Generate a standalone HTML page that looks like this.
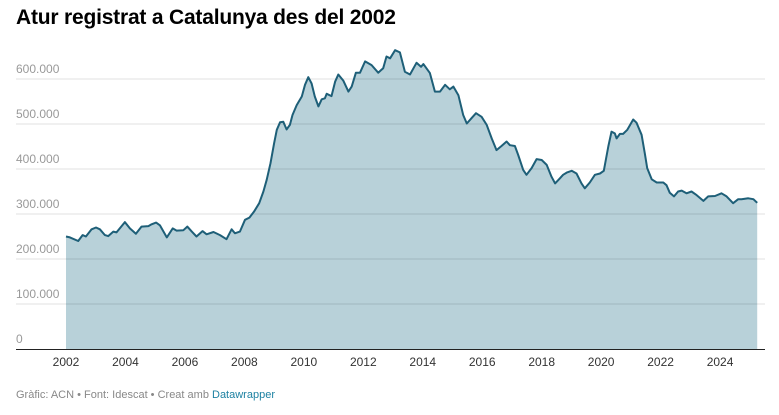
<!DOCTYPE html>
<html><head><meta charset="utf-8"><style>
body{margin:0;background:#fff;font-family:"Liberation Sans",sans-serif;}
#wrap{position:relative;width:779px;height:415px;overflow:hidden;}
h1{position:absolute;left:16px;top:6px;margin:0;font-size:21px;font-weight:bold;color:#000;letter-spacing:-0.2px;}
#foot{position:absolute;left:16px;top:389px;font-size:11px;color:#888;}
#foot a{color:#1d81a2;text-decoration:none;}
</style></head><body>
<div id="wrap">
<h1>Atur registrat a Catalunya des del 2002</h1>
<svg id="chart" width="779" height="415" style="position:absolute;left:0;top:0"></svg>
<div id="foot">Gràfic: ACN • Font: Idescat • Creat amb <a>Datawrapper</a></div>
</div>
<script>
const years=[2002.00,2002.13,2002.41,2002.56,2002.67,2002.86,2003.01,2003.14,2003.31,2003.42,2003.59,2003.70,2003.98,2004.15,2004.35,2004.54,2004.77,2004.88,2005.03,2005.16,2005.39,2005.59,2005.72,2005.95,2006.08,2006.23,2006.39,2006.59,2006.73,2006.96,2007.18,2007.40,2007.57,2007.68,2007.85,2008.02,2008.17,2008.32,2008.50,2008.64,2008.75,2008.88,2009.00,2009.09,2009.20,2009.31,2009.42,2009.53,2009.62,2009.76,2009.93,2010.04,2010.15,2010.26,2010.37,2010.49,2010.60,2010.71,2010.77,2010.93,2011.05,2011.16,2011.33,2011.50,2011.61,2011.75,2011.89,2012.06,2012.28,2012.50,2012.67,2012.78,2012.90,2013.07,2013.23,2013.40,2013.57,2013.79,2013.94,2014.02,2014.24,2014.41,2014.58,2014.75,2014.91,2015.03,2015.20,2015.36,2015.48,2015.64,2015.79,2015.98,2016.15,2016.32,2016.48,2016.65,2016.82,2016.93,2017.10,2017.21,2017.38,2017.49,2017.66,2017.83,2018.00,2018.17,2018.33,2018.45,2018.61,2018.72,2018.84,2019.01,2019.17,2019.34,2019.45,2019.62,2019.79,2019.96,2020.09,2020.24,2020.35,2020.46,2020.52,2020.63,2020.74,2020.88,2021.08,2021.19,2021.36,2021.47,2021.55,2021.70,2021.87,2022.09,2022.20,2022.31,2022.45,2022.59,2022.71,2022.87,2023.04,2023.21,2023.44,2023.60,2023.83,2024.05,2024.22,2024.44,2024.61,2024.72,2024.95,2025.12,2025.25];
const values=[250,248,240,253,250,266,270,266,253,251,261,259,282,268,256,272,273,277,281,275,248,268,263,264,272,261,250,262,255,260,253,244,266,257,261,287,292,305,324,350,376,413,457,487,504,505,488,498,520,542,561,587,604,590,561,539,555,557,567,562,594,610,596,572,583,614,614,639,631,614,624,650,646,664,659,616,610,636,627,633,613,572,572,587,577,583,564,520,501,513,524,516,498,468,442,451,461,453,451,431,398,387,402,422,420,409,383,368,379,387,392,396,390,368,357,370,387,390,396,450,483,479,468,478,478,487,510,503,476,435,402,377,370,370,364,347,339,350,352,346,350,342,329,339,340,346,339,324,333,333,335,333,325];
const yTicks=[0,100,200,300,400,500,600];
const yTickLabels=["0","100.000","200.000","300.000","400.000","500.000","600.000"];
const xTicks=[2002,2004,2006,2008,2010,2012,2014,2016,2018,2020,2022,2024];
const NS="http://www.w3.org/2000/svg";
const svg=document.getElementById('chart');
const X=y=>66+(y-2002)*29.73;
const Y=v=>349-v*0.45;
function mk(t,a){const e=document.createElementNS(NS,t);for(const k in a)e.setAttribute(k,a[k]);svg.appendChild(e);return e;}
// area
let d='M'+X(years[0])+','+Y(0);
years.forEach((yr,i)=>{d+=' L'+X(yr).toFixed(1)+','+Y(values[i]).toFixed(1);});
d+=' L'+X(years[years.length-1])+','+Y(0)+'Z';
const area=mk('path',{d:d,fill:'#b8d1d9'});


// grid
yTicks.forEach((t,i)=>{
  if(t===0)return;
  const g=mk('line',{x1:16,x2:765,y1:Y(t),y2:Y(t),stroke:'rgba(0,0,0,0.12)','stroke-width':1});
  
  
});
yTicks.forEach((t,i)=>{
  const tx=mk('text',{x:16,y:Y(t)-6,fill:'#999','font-size':12,'font-family':'Liberation Sans, sans-serif'});
  tx.textContent=yTickLabels[i];
  
  
});
// line
let l='';
years.forEach((yr,i)=>{l+=(i?' L':'M')+X(yr).toFixed(1)+','+Y(values[i]).toFixed(1);});
const line=mk('path',{d:l,fill:'none',stroke:'#1e5f78','stroke-width':2,'stroke-linejoin':'round'});


// axis
const ax=mk('line',{x1:16,x2:765,y1:349.5,y2:349.5,stroke:'#222','stroke-width':1});


xTicks.forEach(t=>{
  const tx=mk('text',{x:X(t),y:366,fill:'#333','font-size':12,'text-anchor':'middle','font-family':'Liberation Sans, sans-serif'});
  tx.textContent=t;
  
  
});
</script>
</body></html>
